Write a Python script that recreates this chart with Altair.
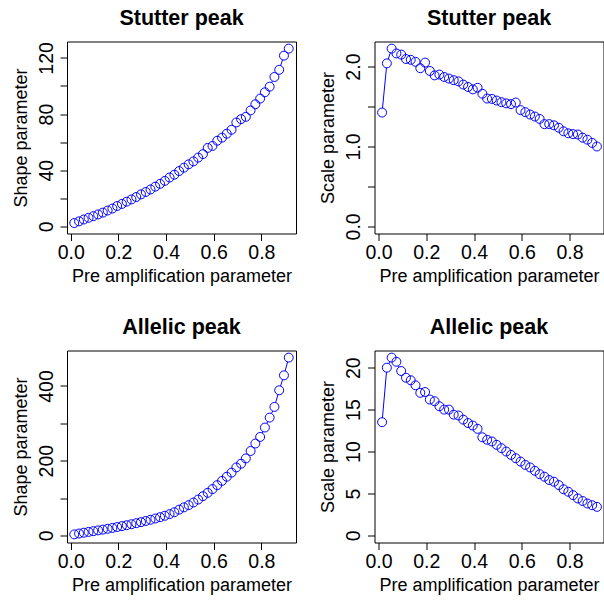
import altair as alt
import pandas as pd

# Pre-amplification parameter values shared by all four panels
pre_amp = [0.015, 0.035, 0.055, 0.075, 0.095, 0.115, 0.135, 0.155, 0.175, 0.195,
           0.215, 0.235, 0.255, 0.275, 0.295, 0.315, 0.335, 0.355, 0.375, 0.395,
           0.415, 0.435, 0.455, 0.475, 0.495, 0.515, 0.535, 0.555, 0.575, 0.595,
           0.615, 0.635, 0.655, 0.675, 0.695, 0.715, 0.735, 0.755, 0.775, 0.795,
           0.815, 0.835, 0.855, 0.875, 0.895, 0.915]

stutter_shape = [2.4, 3.6, 4.9, 6.1, 7.3, 8.5, 9.8, 11.3, 12.7, 14.5,
                 16.0, 17.6, 19.2, 20.9, 22.8, 24.5, 26.3, 28.3, 30.3, 32.4,
                 34.8, 36.8, 39.4, 41.8, 44.2, 46.3, 49.0, 51.5, 55.9, 57.3,
                 61.0, 63.2, 66.0, 68.8, 74.0, 76.4, 78.0, 82.6, 87.0, 91.0,
                 95.5, 99.5, 106.4, 111.5, 121.6, 126.6]

stutter_scale = [1.425, 2.04, 2.225, 2.165, 2.15, 2.095, 2.085, 2.06, 1.98, 2.05,
                 1.945, 1.89, 1.90, 1.87, 1.85, 1.83, 1.815, 1.775, 1.745, 1.715,
                 1.735, 1.66, 1.60, 1.595, 1.575, 1.555, 1.54, 1.53, 1.55, 1.455,
                 1.43, 1.40, 1.375, 1.345, 1.28, 1.28, 1.265, 1.235, 1.19, 1.165,
                 1.155, 1.15, 1.11, 1.085, 1.045, 1.0]

allelic_shape = [2.7, 5.0, 7.2, 9.3, 11.3, 13.4, 15.5, 17.7, 20.0, 22.4,
                 24.8, 27.3, 29.9, 32.6, 35.5, 38.6, 41.8, 45.2, 48.7, 52.5,
                 57.0, 62.0, 69.0, 75.0, 81.0, 88.0, 96.0, 105.0, 114.0, 124.0,
                 134.5, 146.0, 157.0, 168.0, 182.0, 192.0, 206.0, 226.0, 246.0, 263.6,
                 288.8, 315.5, 344.0, 388.5, 428.6, 476.0]

allelic_scale = [13.5, 20.0, 21.2, 20.7, 19.6, 18.8, 18.5, 17.9, 17.0, 17.1,
                 16.2, 16.0, 15.4, 15.0, 15.0, 14.4, 14.3, 13.8, 13.4, 13.1,
                 12.7, 11.7, 11.4, 11.2, 10.8, 10.4, 10.0, 9.6, 9.2, 8.8,
                 8.4, 8.1, 7.7, 7.3, 7.0, 6.6, 6.4, 6.0, 5.5, 5.2,
                 4.8, 4.4, 4.1, 3.8, 3.6, 3.4]

x_ticks = [0.0, 0.2, 0.4, 0.6, 0.8]

FONT = "Liberation Sans"
BLUE = "#0000FF"
PANEL_W = 229
PANEL_H = 192


def padded(values):
    """y range from 0 to the maximum, widened by 4% on both sides."""
    top = max(values)
    return [-0.04 * top, 1.04 * top]


def panel(values, title, y_title, y_ticks, label_every, y_format, x_domain):
    df = pd.DataFrame({"x": pre_amp, "y": values})
    x_axis = alt.Axis(
        values=x_ticks, format=".1f", title="Pre amplification parameter",
        labelFont=FONT, labelFontSize=19.5, labelColor="black", labelPadding=2.5,
        labelFlush=False, labelOverlap=False,
        titleFont=FONT, titleFontSize=18, titleFontWeight="normal", titleColor="black",
        titlePadding=6,
        tickSize=7, tickColor="black", tickWidth=1, domain=False, grid=False,
    )
    y_axis = alt.Axis(
        values=y_ticks, format=y_format, title=y_title,
        labelExpr=f"abs(datum.value % {label_every}) < 1e-9 ? datum.label : ''",
        labelFont=FONT, labelFontSize=19.5, labelColor="black",
        labelAngle=270, labelAlign="center", labelBaseline="alphabetic",
        labelPadding=8, labelFlush=False, labelOverlap=False,
        titleFont=FONT, titleFontSize=18, titleFontWeight="normal", titleColor="black",
        titlePadding=6,
        tickSize=7, tickColor="black", tickWidth=1, domain=False, grid=False,
    )
    base = alt.Chart(df).encode(
        x=alt.X("x:Q", scale=alt.Scale(domain=x_domain, nice=False, zero=False), axis=x_axis),
        y=alt.Y("y:Q", scale=alt.Scale(domain=padded(values), nice=False, zero=False), axis=y_axis),
    )
    line = base.mark_line(color=BLUE, strokeWidth=1)
    # white disks break the connecting line inside each marker, rings drawn on top
    gap = base.mark_point(shape="circle", filled=True, color="white", opacity=1, size=80)
    rings = base.mark_point(shape="circle", filled=False, color=BLUE, opacity=1,
                            size=80, strokeWidth=1)
    return alt.layer(line, gap, rings).properties(
        width=PANEL_W, height=PANEL_H,
        title=alt.TitleParams(title, font=FONT, fontSize=21.5, fontWeight="bold",
                              color="black", anchor="middle", offset=12),
    )


left_x = [-0.0155, 0.9455]
right_x = [-0.0168, 0.9424]

p1 = panel(stutter_shape, "Stutter peak", "Shape parameter",
           [0, 20, 40, 60, 80, 100, 120], 40, "d", left_x)
p2 = panel(stutter_scale, "Stutter peak", "Scale parameter",
           [0.0, 0.5, 1.0, 1.5, 2.0], 1, ".1f", right_x)
p3 = panel(allelic_shape, "Allelic peak", "Shape parameter",
           [0, 100, 200, 300, 400], 200, "d", left_x)
p4 = panel(allelic_scale, "Allelic peak", "Scale parameter",
           [0, 5, 10, 15, 20], 5, "d", right_x)

chart = alt.concat(
    p1, p2, p3, p4, columns=2,
    spacing=alt.RowColnumber(row=117, column=78.5), bounds="flush",
).properties(
    padding={"left": 11, "top": 7.5, "right": 0, "bottom": 0},
    background="white",
).configure_view(stroke="black", strokeWidth=1)

chart.save("out.html", embed_options={"renderer": "svg", "actions": False})
